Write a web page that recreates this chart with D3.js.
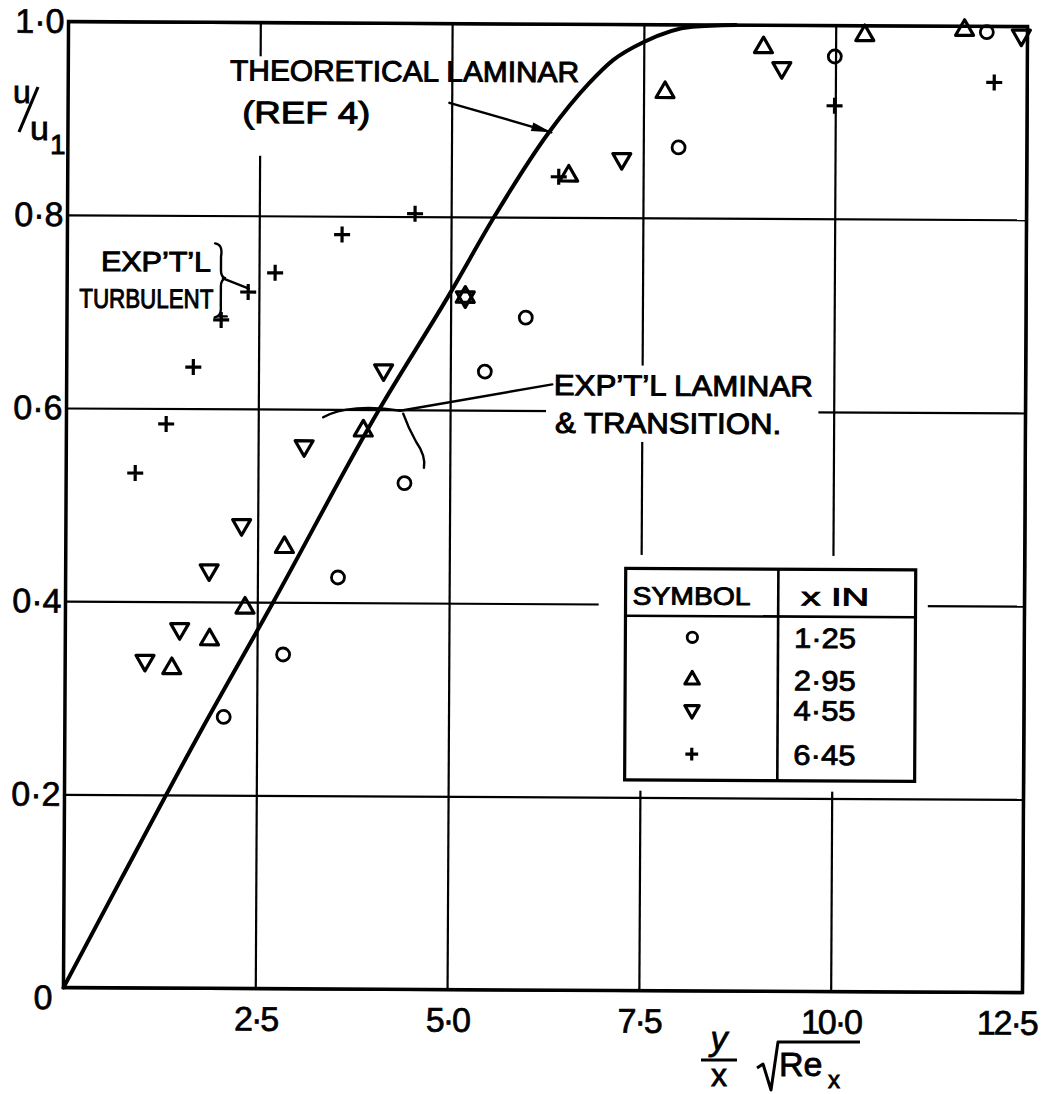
<!DOCTYPE html>
<html>
<head>
<meta charset="utf-8">
<script src="https://cdn.jsdelivr.net/npm/d3@7"></script>
<style>
  body { margin: 0; background: #fff; }
  svg { display: block; }
  text { font-family: "Liberation Sans", Arial, sans-serif; fill: #000; }
</style>
</head>
<body>
<div id="vis"></div>
<script>
const W = 1057, H = 1094;
const M = { left: 66, right: 1025, top: 24, bottom: 990 };

// ############
// data
// ############
const xTicks = [2.5, 5, 7.5, 10, 12.5];
const xTickLabels = ["2·5", "5·0", "7·5", "10·0", "12·5"];
const yTicks = [0, 0.2, 0.4, 0.6, 0.8, 1.0];
const yTickLabels = ["0", "0·2", "0·4", "0·6", "0·8", "1·0"];

// theoretical laminar (ref 4)
const theoryEta = [0, 0.74, 1.75, 2.7, 4.06, 5.0, 5.56, 6.27, 6.79, 7.1, 7.5, 8.13, 8.7];
const theoryU = [0, 0.112, 0.263, 0.399, 0.598, 0.722, 0.8, 0.888, 0.939, 0.963, 0.982, 0.998, 1.0];

// x = 1.25 in
const circEta = [2.07, 2.84, 3.55, 4.41, 5.45, 5.98, 7.96, 9.99, 11.97];
const circU = [0.281, 0.346, 0.426, 0.524, 0.64, 0.696, 0.873, 0.968, 0.994];
// x = 2.95 in
const triEta = [1.39, 1.88, 2.34, 2.85, 3.87, 5.19, 6.53, 7.78, 9.06, 10.38, 11.68];
const triU = [0.331, 0.361, 0.394, 0.457, 0.578, 0.717, 0.843, 0.93, 0.977, 0.99, 0.996];
// x = 4.55 in
const invEta = [1.04, 1.49, 1.87, 2.29, 3.1, 4.13, 5.19, 7.22, 9.3, 12.42];
const invU = [0.339, 0.372, 0.433, 0.48, 0.562, 0.641, 0.717, 0.861, 0.956, 0.991];
// x = 6.45 in
const crossEta = [0.9, 1.3, 1.65, 2.01, 2.36, 2.71, 3.58, 4.53, 6.4, 9.99, 12.07];
const crossU = [0.533, 0.584, 0.643, 0.692, 0.721, 0.741, 0.781, 0.803, 0.842, 0.917, 0.942];

const legendKinds = ["circle", "tri", "inv", "cross"];
const legendLabels = ["1·25", "2·95", "4·55", "6·45"];

// ############
// setup
// ############
const svg = d3.select("#vis").append("svg").attr("width", W).attr("height", H);
// the original sheet sits slightly rotated on the scan
const g = svg.append("g")
  .attr("transform", "rotate(0.3," + W / 2 + "," + (M.top + M.bottom) / 2 + ")");

const x = d3.scaleLinear().domain([0, 12.5]).range([M.left, M.right]);
const y = d3.scaleLinear().domain([0, 1]).range([M.bottom, M.top]);

// grid + tick labels
const yAxis = g.append("g")
  .attr("transform", "translate(" + M.left + ",0)")
  .call(d3.axisLeft(y).tickValues(yTicks)
    .tickSize(-(M.right - M.left)).tickPadding(4)
    .tickFormat((d, i) => yTickLabels[i]));
const xAxis = g.append("g")
  .attr("transform", "translate(0," + M.bottom + ")")
  .call(d3.axisBottom(x).tickValues(xTicks)
    .tickSize(-(M.bottom - M.top)).tickPadding(18)
    .tickFormat((d, i) => xTickLabels[i]));

[xAxis, yAxis].forEach((a) => {
  a.select(".domain").remove();
  a.selectAll("line").attr("stroke", "#000").attr("stroke-width", 2.2);
  a.selectAll("text").attr("font-size", 34).attr("fill", "#000")
    .attr("stroke", "#000").attr("stroke-width", 0.7);
});
yAxis.selectAll(".tick").filter((d) => d === 0).select("text")
  .attr("x", -11).attr("dy", "0.62em");
xAxis.selectAll("text").attr("letter-spacing", -2);
xAxis.selectAll(".tick").filter((d) => d === 12.5).select("text")
  .attr("text-anchor", "end").attr("dx", 14);

// frame
g.append("rect")
  .attr("x", M.left).attr("y", M.top)
  .attr("width", M.right - M.left).attr("height", M.bottom - M.top)
  .attr("fill", "none").attr("stroke", "#000").attr("stroke-width", 3.5);

// white patches where the lettering breaks the grid
const masks = [
  [2.0, 0.965, 4.85, 0.885],
  [2.15, 0.93, 4.05, 0.862],
  [6.25, 0.647, 9.8, 0.568],
  [6.95, 0.451, 11.24, 0.207],
];
g.append("g").selectAll("rect").data(masks).join("rect")
  .attr("x", (d) => x(d[0])).attr("y", (d) => y(d[1]))
  .attr("width", (d) => x(d[2]) - x(d[0]))
  .attr("height", (d) => y(d[3]) - y(d[1]))
  .attr("fill", "#fff");

// theoretical curve
g.append("path")
  .datum(d3.zip(theoryEta, theoryU))
  .attr("fill", "none").attr("stroke", "#000").attr("stroke-width", 4)
  .attr("stroke-linecap", "round")
  .attr("d", d3.line().x((d) => x(d[0])).y((d) => y(d[1])).curve(d3.curveMonotoneX));

// ############
// markers
// ############
function marker(sel, kind, k) {
  k = k || 1;
  if (kind === "circle") {
    sel.append("circle").attr("r", 6.5 * k)
      .attr("fill", "none").attr("stroke", "#000").attr("stroke-width", 2.8);
  } else if (kind === "tri" || kind === "inv") {
    sel.append("path")
      .attr("d", d3.symbol(d3.symbolTriangle, 140 * k * k)())
      .attr("transform", kind === "inv" ? "rotate(180)" : null)
      .attr("fill", "none").attr("stroke", "#000").attr("stroke-width", 3.2)
      .attr("stroke-linejoin", "round");
  } else {
    const s = 8 * k;
    sel.append("path")
      .attr("d", "M" + -s + ",0H" + s + "M0," + -s + "V" + s)
      .attr("stroke", "#000").attr("stroke-width", 3.2);
  }
}

const series = [
  { kind: "circle", eta: circEta, u: circU },
  { kind: "tri", eta: triEta, u: triU },
  { kind: "inv", eta: invEta, u: invU },
  { kind: "cross", eta: crossEta, u: crossU },
];
series.forEach((s) => {
  g.append("g").selectAll("g").data(d3.zip(s.eta, s.u)).join("g")
    .attr("transform", (d) => "translate(" + x(d[0]) + "," + y(d[1]) + ")")
    .each(function () { marker(d3.select(this), s.kind); });
});

// ############
// annotations
// ############
function label(txt, eta, u, size, len) {
  g.append("text").attr("x", x(eta)).attr("y", y(u))
    .attr("font-size", size).attr("stroke", "#000").attr("stroke-width", 1)
    .attr("textLength", len).attr("lengthAdjust", "spacingAndGlyphs")
    .text(txt);
}
label("THEORETICAL  LAMINAR", 2.11, 0.94, 29, 349);
label("(REF 4)", 2.27, 0.896, 31, 128);
label("EXP’T’L", 0.44, 0.742, 28, 110);
label("TURBULENT", 0.16, 0.704, 27, 134);
label("EXP’T’L  LAMINAR", 6.35, 0.616, 29, 259);
label("& TRANSITION.", 6.37, 0.577, 29, 226);

const ann = g.append("g").attr("fill", "none").attr("stroke", "#000")
  .attr("stroke-width", 2.4).attr("stroke-linecap", "round");

// arrow to the theoretical curve
const a0 = [x(4.97), y(0.918)], a1 = [x(6.3), y(0.888)];
ann.append("line").attr("x1", a0[0]).attr("y1", a0[1]).attr("x2", a1[0]).attr("y2", a1[1]);
const ang = Math.atan2(a1[1] - a0[1], a1[0] - a0[0]) * 180 / Math.PI;
g.append("path")
  .attr("d", "M0,0L-20,-4.5L-20,4.5Z")
  .attr("transform", "translate(" + a1[0] + "," + a1[1] + ") rotate(" + ang + ")")
  .attr("fill", "#000");

// turbulent brace
const bt = [x(2.03), y(0.735)];
ann.append("path")
  .attr("transform", "translate(" + bt[0] + "," + bt[1] + ")")
  .attr("d", "M-8,-35Q0,-34 -2,-22L-2,-8Q-2,-1 3,0Q-2,1 -2,8L-2,28Q-1,38 -8,39M-4,38L4,38M0,0L26,10");

// laminar & transition brace + leader
const bc = [x(4.35), y(0.599)];
ann.append("line").attr("x1", bc[0]).attr("y1", bc[1])
  .attr("x2", x(6.33)).attr("y2", y(0.627));
ann.append("path")
  .attr("transform", "translate(" + bc[0] + "," + bc[1] + ")")
  .attr("d", "M-77,7C-60,-3 -30,-5 0,0M3,3Q8,17 16,31Q26,45 24,57");

// ############
// legend table
// ############
const L = { x0: x(7.3), x1: x(11.08), xm: x(9.29), y0: y(0.437), yh: y(0.388), y1: y(0.218) };
const leg = g.append("g");
leg.append("rect").attr("x", L.x0).attr("y", L.y0)
  .attr("width", L.x1 - L.x0).attr("height", L.y1 - L.y0)
  .attr("fill", "#fff").attr("stroke", "#000").attr("stroke-width", 3.2);
leg.append("line").attr("x1", L.x0).attr("x2", L.x1).attr("y1", L.yh).attr("y2", L.yh)
  .attr("stroke", "#000").attr("stroke-width", 2.6);
leg.append("line").attr("x1", L.xm).attr("x2", L.xm).attr("y1", L.y0).attr("y2", L.y1)
  .attr("stroke", "#000").attr("stroke-width", 2.6);
leg.append("text").attr("x", L.x0 + 7).attr("y", L.y0 + 36)
  .attr("font-size", 25).attr("stroke", "#000").attr("stroke-width", 0.9)
  .attr("textLength", 118).attr("lengthAdjust", "spacingAndGlyphs").text("SYMBOL");
leg.append("text").attr("x", L.xm + 23).attr("y", L.y0 + 36)
  .attr("font-size", 25).attr("stroke", "#000").attr("stroke-width", 0.9)
  .attr("textLength", 68).attr("lengthAdjust", "spacingAndGlyphs").text("x  IN");

const rowY = [0.366, 0.322, 0.291, 0.245];
const rows = leg.selectAll("g.row").data(legendKinds).join("g").attr("class", "row");
rows.each(function (k, i) {
  const r = d3.select(this);
  const sym = r.append("g")
    .attr("transform", "translate(" + (L.x0 + 67) + "," + y(rowY[i]) + ")");
  marker(sym, k, 0.8);
  r.append("text").attr("x", L.xm + 16).attr("y", y(rowY[i]) + 10)
    .attr("font-size", 28).attr("stroke", "#000").attr("stroke-width", 0.8)
    .attr("textLength", 62).attr("lengthAdjust", "spacingAndGlyphs")
    .text(legendLabels[i]);
});

// ############
// axis titles
// ############
const t = svg.append("g").attr("stroke", "#000").attr("stroke-width", 0.8);
t.append("text").attr("x", 13).attr("y", 103).attr("font-size", 32).text("u");
t.append("line").attr("x1", 19).attr("y1", 132).attr("x2", 38).attr("y2", 87)
  .attr("stroke-width", 3.2);
t.append("text").attr("x", 30).attr("y", 140).attr("font-size", 34).text("u");
t.append("text").attr("x", 50).attr("y", 154).attr("font-size", 28).text("1");

t.append("text").attr("x", 719).attr("y", 1050).attr("text-anchor", "middle")
  .attr("font-size", 34).attr("font-style", "italic").text("y");
t.append("line").attr("x1", 701).attr("x2", 737).attr("y1", 1060).attr("y2", 1060)
  .attr("stroke-width", 3);
t.append("text").attr("x", 719).attr("y", 1086).attr("text-anchor", "middle")
  .attr("font-size", 32).text("x");
t.append("path").attr("d", "M757,1068L763,1064L771,1090L778,1042L860,1042")
  .attr("fill", "none").attr("stroke-width", 3)
  .attr("stroke-linejoin", "round");
t.append("text").attr("x", 779).attr("y", 1076).attr("font-size", 34).text("Re");
t.append("text").attr("x", 828).attr("y", 1088).attr("font-size", 24).text("x");
</script>
</body>
</html>
